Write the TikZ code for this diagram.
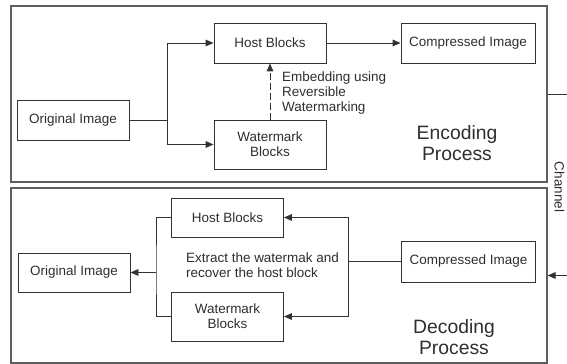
\documentclass[tikz,border=0pt]{standalone}
\usepackage{fontspec}
\setmainfont{Liberation Sans}
\usepackage{tikz}
\usetikzlibrary{arrows.meta,positioning,calc}
\usepackage{xcolor}

\definecolor{linegray}{HTML}{333333}
\definecolor{framegray}{HTML}{5E5E5E}
\definecolor{textgray}{HTML}{2E2E2E}

\begin{document}
\begin{tikzpicture}[x=0.3mm, y=-0.3mm,
    >={Triangle[length=2.4mm,width=2mm]},
    every node/.style={text=textgray, font=\fontsize{11.5}{12.8}\selectfont},
    frame/.style={draw=framegray, line width=1pt, minimum width=160.8mm, minimum height=52.8mm, inner sep=0pt},
    blk/.style={draw=linegray, line width=0.8pt, minimum width=33.6mm, minimum height=12mm, inner sep=0pt, align=center},
    wide/.style={blk, minimum width=40.2mm},
    tall/.style={blk, minimum height=14.7mm},
    link/.style={draw=linegray, line width=0.8pt},
    biglabel/.style={align=center, font=\fontsize{16.5}{18.5}\selectfont}]
    \useasboundingbox (0,0) rectangle (567,364);

    % Frames
    \node[frame] (enc) at (279,94) {};
    \node[frame, minimum height=52.5mm] (dec) at (279,275.5) {};

    % Encoding
    \node[blk] (origE) at (73,120) {Original Image};
    \node[blk] (hostE) at (270,43) {Host Blocks};
    \node[tall] (wmE) at (270,144.5) {Watermark\\Blocks};
    \node[wide] (compE) at (468,43) {Compressed Image};
    \coordinate (jE) at (167,120);
    \draw[link, ->] (origE.east) -- (jE) |- (hostE.west);
    \draw[link, ->] (jE) |- (wmE.west);
    \draw[link, ->] (hostE) -- (compE);
    \draw[link, ->, dash pattern=on 2mm off 1mm] (wmE) -- (hostE);
    \node[anchor=west, align=left] (embtxt) at (278,93.5) {Embedding using\\Reversible\\Watermarking};
    \node[biglabel] (enclbl) at (457,143) {Encoding\\Process};

    % Decoding
    \node[blk, minimum height=11.7mm] (origD) at (74,272.5) {Original Image};
    \node[blk, minimum height=11.7mm] (hostD) at (227.5,217.5) {Host Blocks};
    \node[tall] (wmD) at (227.5,316.5) {Watermark\\Blocks};
    \node[wide, minimum height=12.3mm] (compD) at (468.5,261.5) {Compressed Image};
    \coordinate (jD) at (156,272.5);
    \coordinate (jR) at (348,261.5);
    \draw[link] (hostD.west) -| (jD) |- (wmD.west);
    \draw[link, ->] (jD) -- (origD);
    \draw[link] (compD) -- (jR);
    \draw[link, ->] (jR) |- (hostD.east);
    \draw[link, ->] (jR) |- (wmD.east);
    \node[anchor=west, align=left] (extxt) at (182,265) {Extract the watermak and\\recover the host block};
    \node[biglabel] (declbl) at (454,337) {Decoding\\Process};

    % Channel
    \coordinate (chr) at (572,94);
    \draw[link, ->] (enc.east) -- (chr) |- (dec.east);
    \node[rotate=-90] (chlbl) at (559.5,187) {Channel};
\end{tikzpicture}
\end{document}
